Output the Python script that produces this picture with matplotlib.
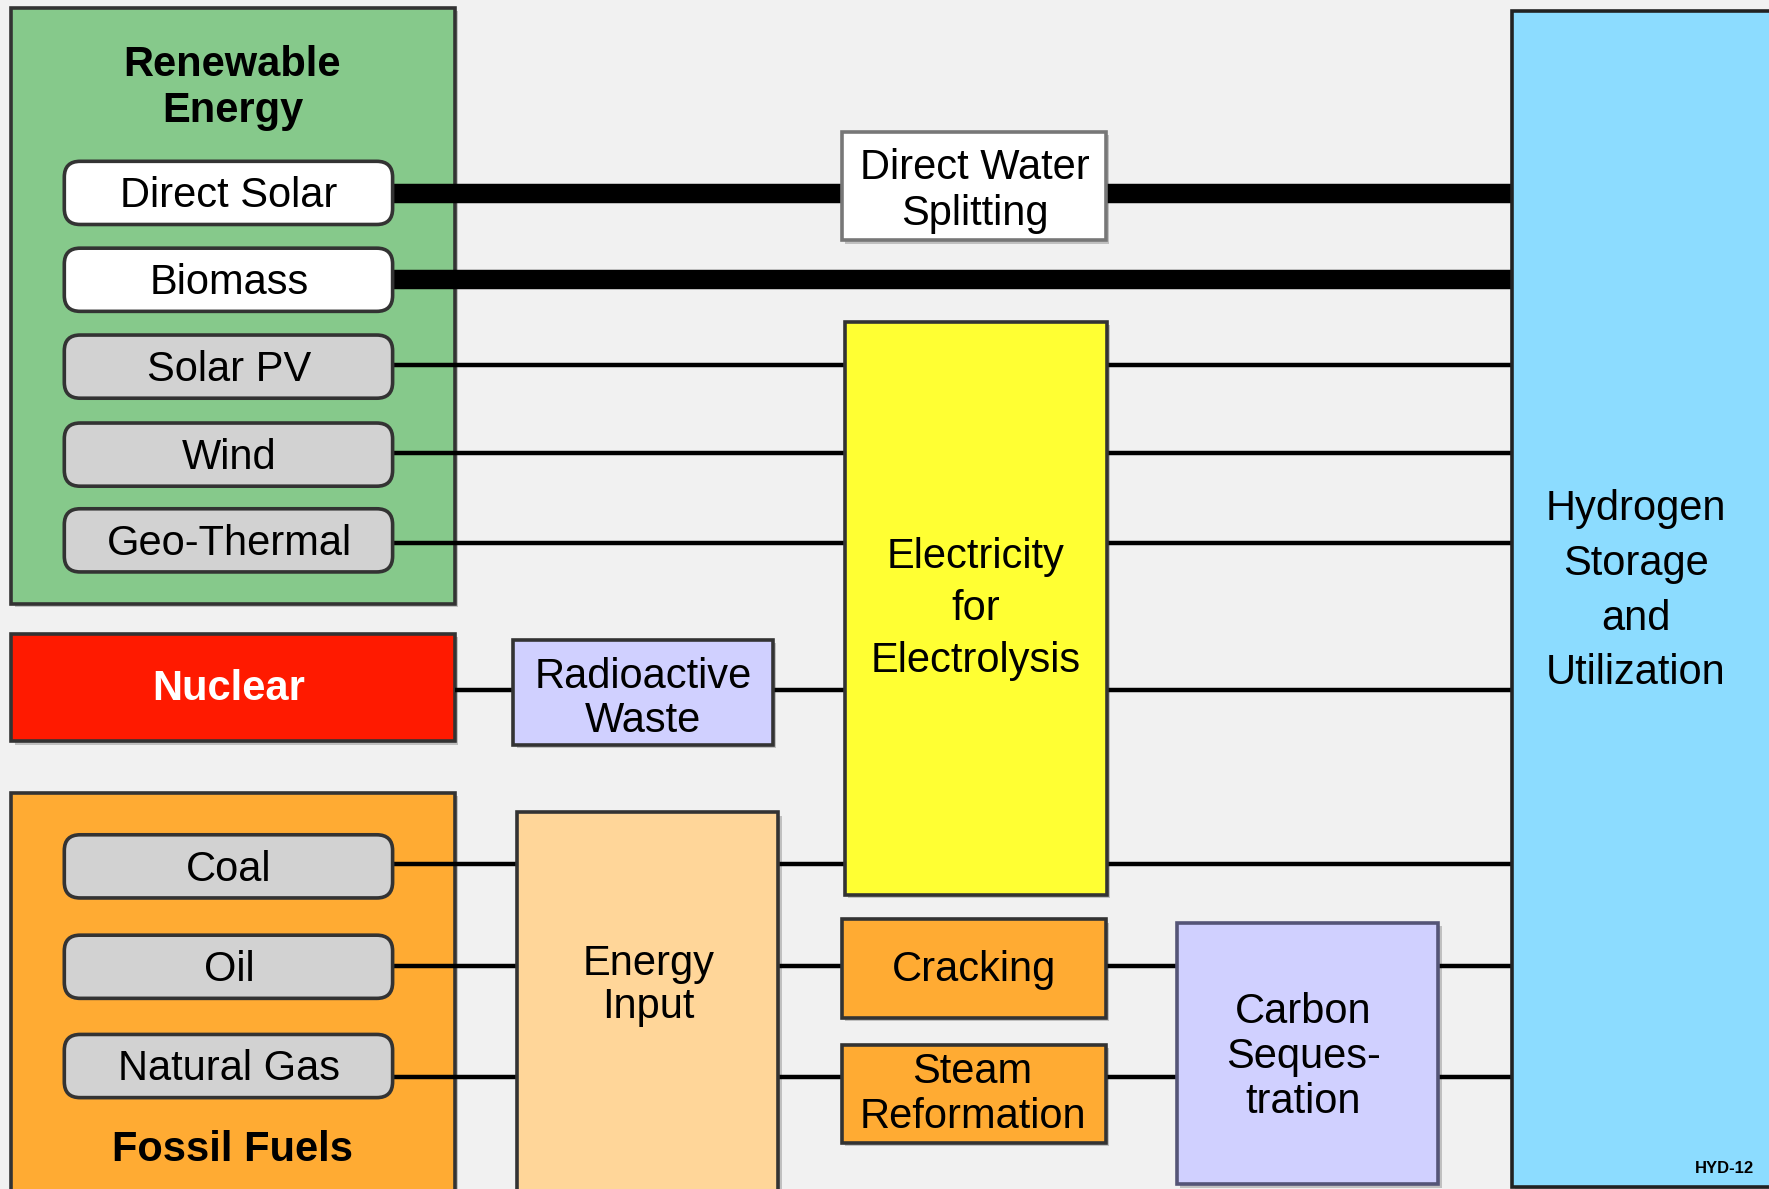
"""
Hydrogen production pathways block diagram (HYD-12)
"""

import matplotlib.pyplot as plt
from matplotlib.patches import Rectangle, FancyBboxPatch

plt.rcParams['font.family'] = ['Liberation Sans', 'DejaVu Sans']

W, H = 1568, 1054  # drawing units, y grows downward
TEXT_DY = 3  # va="center" sits a little high, nudge text down

# source items inside the group panels
item_labels = ["Direct Solar", "Biomass", "Solar PV", "Wind", "Geo-Thermal",
               "Coal", "Oil", "Natural Gas"]
item_tops = [143, 220, 297, 375, 451, 740, 829, 917]
item_fill = ["white", "white", "#d2d2d2", "#d2d2d2", "#d2d2d2",
             "#d2d2d2", "#d2d2d2", "#d2d2d2"]

# group panels and process boxes
box_labels = ["Renewable\nEnergy", "Nuclear", "Fossil Fuels", "Radioactive\nWaste",
              "Energy\nInput", "Direct Water\nSplitting", "Electricity\nfor\nElectrolysis",
              "Cracking", "Steam\nReformation", "Carbon\nSeques-\ntration",
              "Hydrogen\nStorage\nand\nUtilization"]
box_rects = [(10, 7, 403, 535), (10, 562, 403, 657), (10, 703, 403, 1070),
             (455, 567, 685, 660), (458, 720, 690, 1070), (746, 117, 980, 213),
             (749, 285, 981, 793), (746, 815, 980, 902), (746, 926, 980, 1013),
             (1043, 818, 1275, 1050), (1340, 10, 1575, 1052)]
box_face = ["#86c98b", "#ff1a00", "#ffab33", "#d0d0ff", "#ffd699", "white",
            "#ffff33", "#ffab33", "#ffab33", "#d0d0ff", "#8cdcff"]
box_text_pos = [(206, 75), (203, 608), (206, 1016), (570, 617), (575, 871),
                (864, 166), (865, 537), (863, 857), (862, 967), (1155, 934),
                (1450, 521)]
box_text_col = ["black", "white", "black", "black", "black", "black", "black",
                "black", "black", "black", "black"]
box_bold = [True, True, True, False, False, False, False, False, False, False, False]
box_spacing = [1.19, 1.0, 1.0, 1.13, 1.1, 1.19, 1.38, 1.0, 1.16, 1.16, 1.48]
box_edge = ["#333333"] * 5 + ["#777777"] + ["#333333"] * 3 + ["#555577", "#222222"]
box_z = [1.5, 1.5, 1.5] + [3] * 8

# connector lines running to the hydrogen box
link_y = [171, 247, 324, 402, 481, 612, 766, 856, 955]
link_x0 = [348, 348, 348, 348, 348, 403, 348, 348, 348]
link_lw = [14, 14, 3.2, 3.2, 3.2, 3.2, 3.2, 3.2, 3.2]
link_x1 = 1340

fig = plt.figure(figsize=(17.69, 11.89), dpi=100)
fig.patch.set_facecolor("#f1f1f1")
ax = fig.add_axes([0, 0, 1, 1])
ax.set_xlim(0, W)
ax.set_ylim(H, 0)
ax.axis("off")

for y, x0, lw in zip(link_y, link_x0, link_lw):
    ax.plot([x0, link_x1], [y, y], color="black", lw=lw, solid_capstyle="butt", zorder=2)

for i, (x0, y0, x1, y1) in enumerate(box_rects):
    # shadow then the box itself
    ax.add_patch(Rectangle((x0 + 3, y0 + 3), x1 - x0, y1 - y0, facecolor="#00000033",
                           edgecolor="none", zorder=box_z[i] - 0.1))
    ax.add_patch(Rectangle((x0, y0), x1 - x0, y1 - y0, facecolor=box_face[i],
                           edgecolor=box_edge[i], lw=2.6, zorder=box_z[i]))
    tx, ty = box_text_pos[i]
    ax.text(tx, ty + TEXT_DY, box_labels[i], ha="center", va="center",
            multialignment="center", fontsize=30, color=box_text_col[i],
            fontweight="bold" if box_bold[i] else "normal",
            linespacing=box_spacing[i], zorder=6)

for lab, top, fc in zip(item_labels, item_tops, item_fill):
    ax.add_patch(FancyBboxPatch((57, top), 291, 56,
                                boxstyle="round,pad=0,rounding_size=14",
                                facecolor=fc, edgecolor="#333333", lw=2.6, zorder=4))
    ax.text(203, top + 28 + TEXT_DY, lab, ha="center", va="center", fontsize=30, zorder=6)

ax.text(1555, 1036, "HYD-12", ha="right", va="center", fontsize=12,
        fontweight="bold", zorder=6)

plt.savefig("out.png", dpi=100, facecolor=fig.get_facecolor())
